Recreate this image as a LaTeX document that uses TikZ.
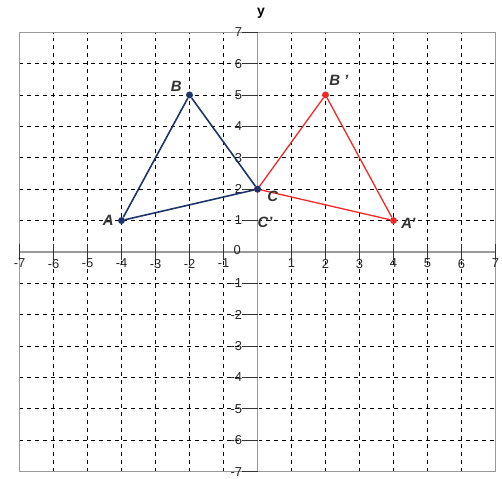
\documentclass[tikz,border=0pt]{standalone}
\usepackage{fontspec}
\setmainfont{Liberation Sans}
\usetikzlibrary{positioning}
\definecolor{TriBlue}{HTML}{1E3468}
\definecolor{TriRed}{HTML}{F02828}
\definecolor{AxisGray}{HTML}{9A9A9A}
\tikzset{
    % Grid lines
    gridline/.style={
        black,
        line width=0.9pt,
        dash pattern=on 4pt off 4pt
    },
    % Axes and frame
    axisline/.style={
        AxisGray,
        line width=1.4pt
    },
    frameline/.style={
        AxisGray,
        line width=1.2pt
    },
    tickline/.style={
        black!80,
        line width=0.8pt
    },
    % Tick numbers
    ticknum/.style={
        font=\fontsize{13}{14}\selectfont,
        text=black!85,
        inner sep=1pt
    },
    % Vertices
    bluedot/.style={
        circle,
        fill=TriBlue,
        inner sep=0pt,
        minimum size=7pt
    },
    reddot/.style={
        circle,
        fill=TriRed,
        inner sep=0pt,
        minimum size=7pt
    },
    % Triangle sides
    blueside/.style={
        draw=TriBlue,
        line width=1.6pt
    },
    redside/.style={
        draw=TriRed,
        line width=1.3pt
    },
    % Vertex labels
    ptlabel/.style={
        font=\fontsize{15}{16}\selectfont\bfseries\itshape,
        text=black!80,
        inner sep=1pt
    }
}
\begin{document}
\begin{tikzpicture}[x=1.2cm, y=1.108cm]
        \useasboundingbox (-7.574,-7.229) rectangle (7.191,8.025);
        % Grid
        \foreach \k in {-6,...,6} {
            \draw[gridline] (\k,-7) -- (\k,7);
            \draw[gridline] (-7,\k) -- (7,\k);
        }
        \draw[frameline] (-7,-7) rectangle (7,7);

        % Axes
        \draw[axisline] (-7,0) -- (7,0);
        \draw[axisline] (0,-7) -- (0,7);
        \node[font=\fontsize{14}{15}\selectfont\bfseries] (ylab) at (0.1,7.6) {y};

        % Ticks and numbers
        \foreach \k in {-7,...,-1,1,2,...,7} {
            \draw[tickline] (\k,-0.25) -- (\k,0.25);
            \node[ticknum] (xn\k) at (\k,-0.37) {\k};
            \draw[tickline] (-0.45,\k) -- (0,\k);
            \node[ticknum, anchor=east] (yn\k) at (-0.42,\k) {\k};
        }
        \node[ticknum] (zero) at (-0.6,0.05) {0};

        % Image triangle
        \node[reddot] (Ap) at (4,1) {};
        \node[reddot] (Bp) at (2,5) {};
        \node[reddot] (Cp) at (0,2) {};
        \draw[redside] (Ap) -- (Bp) -- (Cp) -- (Ap);

        % Original triangle
        \node[bluedot] (A) at (-4,1) {};
        \node[bluedot] (B) at (-2,5) {};
        \node[bluedot] (C) at (0,2) {};
        \draw[blueside] (A) -- (B) -- (C) -- (A);

        % Labels
        \node[ptlabel, left=3pt of A] (lA) {A};
        \node[ptlabel, above left=0pt and 4pt of B] (lB) {B};
        \node[ptlabel] (lC) at (0.45,1.78) {C};
        \node[ptlabel] (lCp) at (0.22,0.95) {C’};
        \node[ptlabel, above right=6pt and 0pt of Bp] (lBp) {B ’};
        \node[ptlabel, right=3pt of Ap, yshift=-3pt] (lAp) {A’};
    \end{tikzpicture}
\end{document}
